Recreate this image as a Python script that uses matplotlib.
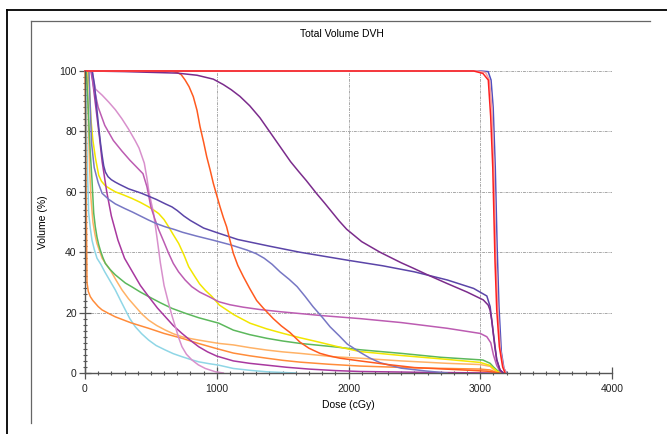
import matplotlib
matplotlib.use("Agg")
import matplotlib.pyplot as plt
from matplotlib.lines import Line2D
from matplotlib.ticker import MultipleLocator

plt.rcParams['font.family'] = ['Liberation Sans', 'DejaVu Sans']

# dose (cGy) / volume (%), one pair per structure
cyan_d = [5, 10, 18, 28, 40, 53, 70, 91, 120, 150, 190, 230, 270, 306, 340, 382, 430, 483, 540, 610, 670, 736,
          800, 863, 940, 1015, 1126, 1250, 1379, 1600]
cyan_v = [100, 85, 68, 53, 48, 44, 41, 38, 36, 33.5, 30.5, 27.5, 24, 20.9, 18, 15.3, 13, 10.9, 9.1, 7.6, 6.4, 5.4,
          4.5, 3.7, 3.1, 2.6, 1.5, 0.9, 0.4, 0]

orange_d = [0, 5, 10, 15, 25, 40, 60, 78, 100, 129, 180, 230, 350, 483, 600, 736, 860, 989, 1126, 1250, 1379,
            1500, 1632, 1850, 2087, 2500, 3000, 3075, 3120, 3150]
orange_v = [100, 80, 55, 30, 27, 25.3, 24, 23.1, 22, 20.9, 19.7, 18.6, 16.6, 14.8, 13.1, 11.5, 9.8, 8.2, 6.6,
            5.7, 4.9, 4.2, 3.6, 2.9, 2.3, 1.7, 1.3, 1, 0.3, 0]

peach_d = [15, 25, 35, 45, 60, 75, 90, 110, 130, 160, 192, 235, 281, 330, 382, 430, 483, 545, 610, 670, 736,
           800, 863, 1015, 1126, 1250, 1379, 1500, 1632, 1885, 2087, 2400, 2750, 3000, 3075, 3100, 3130, 3160]
peach_v = [100, 85, 68, 58, 50, 46, 43, 40.5, 38, 36, 34.1, 30.8, 27.5, 24.6, 22, 19.6, 17.5, 15.7, 14.2, 13,
           12, 11.4, 10.9, 9.8, 9.3, 8.4, 7.6, 7, 6.5, 5.4, 4.9, 4, 3.2, 2.8, 2.2, 1.2, 0.4, 0]

green_d = [10, 20, 30, 40, 53, 66, 78, 91, 104, 116, 135, 154, 190, 230, 306, 357, 420, 483, 570, 660, 760, 863,
           1015, 1126, 1250, 1379, 1500, 1632, 1885, 2087, 2400, 2700, 3020, 3075, 3100, 3125, 3160]
green_v = [100, 92, 82, 73, 64, 53, 48.5, 45, 42.5, 40.7, 38.3, 36.3, 34.3, 32.5, 29.8, 28.5, 26.8, 25.3, 23.3,
           21.4, 19.8, 18.3, 16.5, 14.2, 12.7, 11.5, 10.6, 9.8, 8.7, 7.7, 6.5, 5.2, 4.3, 3.2, 2, 1, 0]

yellow_d = [25, 35, 45, 60, 80, 104, 125, 154, 190, 230, 290, 357, 420, 483, 520, 559, 600, 635, 670, 711, 750,
            787, 830, 870, 915, 964, 1020, 1130, 1252, 1380, 1505, 1630, 1759, 1920, 2087, 2400, 2750, 3000, 3075,
            3100, 3130, 3165]
yellow_v = [100, 93, 84, 77, 71, 65.5, 63.5, 62, 61, 60, 59, 57.8, 56.5, 55, 54, 52.8, 50.8, 48.4, 45.8, 42.9,
            39.2, 35.2, 32.2, 29.5, 27.3, 25.3, 22.5, 19.3, 16.5, 14.6, 13.1, 11.7, 10.4, 8.7, 7.1, 5.8, 4.5,
            3.5, 2.5, 1.5, 0.5, 0]

dkmag_d = [45, 60, 85, 110, 130, 165, 200, 250, 300, 360, 420, 483, 550, 610, 670, 736, 800, 863, 930, 1000,
           1126, 1250, 1379, 1530, 1700, 1900, 2087, 2600, 3100]
dkmag_v = [100, 96, 87, 78, 70, 60, 52, 44, 38, 33.5, 29, 25.3, 21.5, 18.6, 15.7, 13.1, 10.8, 8.7, 7, 5.6,
           4, 3.2, 2.6, 1.9, 1.3, 0.8, 0.5, 0.2, 0]

pink_d = [55, 65, 80, 130, 180, 230, 280, 330, 380, 410, 430, 450, 470, 485, 505, 520, 546, 572, 600, 635, 660,
          686, 710, 736, 770, 812, 860, 913, 990, 1050]
pink_v = [100, 97, 94, 92, 89.7, 87.2, 84.2, 80.8, 77, 74.5, 72, 69.5, 64.5, 60, 56, 53, 45, 36.5, 29, 23,
          19, 15.3, 11.8, 8.7, 6.2, 4.3, 2.7, 1.5, 0.4, 0]

mag_d = [50, 65, 100, 150, 215, 280, 340, 400, 440, 470, 500, 530, 560, 600, 635, 670, 710, 760, 810, 870, 940,
         1015, 1100, 1200, 1330, 1480, 1800, 2090, 2400, 2750, 3000, 3050, 3080, 3100, 3125, 3150, 3170]
mag_v = [100, 95, 88, 82, 77, 73.5, 70.5, 67.8, 66, 61.7, 55, 51, 47.4, 43.3, 39.6, 36.3, 33.5, 30.8, 28.6,
         26.8, 25.3, 23.6, 22.6, 21.8, 21, 20.3, 19, 18, 16.7, 14.8, 13.1, 12, 10, 6, 2.5, 0.6, 0]

ltblue_d = [30, 40, 50, 70, 100, 130, 180, 230, 300, 360, 420, 480, 540, 610, 680, 740, 850, 970, 1100, 1230,
            1300, 1360, 1420, 1480, 1550, 1610, 1670, 1730, 1800, 1860, 1930, 1990, 2090, 2160, 2240, 2400, 2580,
            2750]
ltblue_v = [100, 88, 76, 68, 63, 59.5, 57.5, 56, 54.5, 53.3, 52, 50.7, 49.5, 48.4, 47.5, 46.6, 45.3, 44, 42.5,
            40.7, 39.5, 38, 36, 33.5, 31, 28.6, 25.4, 22, 18.5, 15.3, 12.3, 9.6, 6.8, 5, 3.4, 1.6, 0.7, 0]

bluepur_d = [55, 70, 80, 92, 105, 118, 130, 142, 155, 175, 200, 230, 260, 330, 430, 540, 610, 660, 700, 750, 800,
             900, 1000, 1160, 1400, 1630, 2000, 2260, 2500, 2750, 2950, 3050, 3075, 3100, 3125, 3150, 3175]
bluepur_v = [100, 96, 92, 86.5, 81, 76, 72, 68.6, 66.5, 65, 64, 63.2, 62.5, 61, 59.5, 57.5, 56, 55, 53.8, 52,
             50.5, 48, 46.5, 44.2, 42, 40, 37.3, 35.5, 33.5, 30.8, 28, 25.5, 22, 13, 4.5, 1, 0]

orred_d = [0, 650, 700, 730, 760, 790, 822, 850, 873, 900, 924, 950, 974, 1000, 1025, 1050, 1075, 1100, 1126,
           1160, 1202, 1250, 1303, 1353, 1429, 1490, 1556, 1632, 1700, 1784, 1860, 1935, 2087, 2300, 2500, 2870,
           3050, 3100, 3150]
orred_v = [100, 100, 99.5, 98.8, 97, 94.8, 91.5, 87, 81.6, 76.5, 71.6, 67.2, 62.8, 58.8, 55, 51.5, 48.4, 44,
           39.6, 35.6, 31.9, 28, 24, 21.5, 18, 15.6, 13.4, 10.2, 8.2, 6.5, 5.6, 4.9, 4, 2.8, 1.8, 1, 0.6, 0.3, 0]

purple_d = [40, 300, 700, 850, 974, 1050, 1110, 1176, 1250, 1328, 1400, 1480, 1560, 1620, 1680, 1760, 1820,
            1874, 1930, 1986, 2100, 2239, 2400, 2492, 2600, 2745, 2900, 3023, 3060, 3074, 3087, 3099, 3112,
            3125, 3150, 3175]
purple_v = [100, 99.8, 99.3, 98.6, 97.3, 95.5, 93.8, 91.6, 88.5, 84.5, 80, 75, 70, 66.8, 63.7, 59.3, 56.2,
            53.3, 50.3, 47.6, 43.5, 40, 36.5, 34.7, 32.5, 29.7, 26.8, 24.2, 22.5, 20.9, 17.5, 13, 8.2, 4.3, 1, 0]

ptvb_d = [0, 3000, 3060, 3082, 3098, 3114, 3128, 3142, 3160, 3180, 3200]
ptvb_v = [100, 100, 99.8, 97, 88, 68, 42, 22, 7, 1.5, 0]

ptvp_d = [0, 2980, 3040, 3070, 3088, 3104, 3118, 3134, 3152, 3175, 3195]
ptvp_v = [100, 100, 99.5, 97, 88, 68, 40, 21, 8, 2, 0]

ptv_d = [0, 2950, 3020, 3061, 3079, 3095, 3112, 3125, 3145, 3170, 3188]
ptv_v = [100, 100, 99.2, 97, 85, 68, 37, 21, 8.7, 2, 0]

curves = [
    (cyan_d, cyan_v, '#8fd6e6'),
    (orange_d, orange_v, '#ff8c3a'),
    (peach_d, peach_v, '#ffb266'),
    (green_d, green_v, '#5cb85c'),
    (yellow_d, yellow_v, '#f2e600'),
    (dkmag_d, dkmag_v, '#a8389f'),
    (pink_d, pink_v, '#d890cc'),
    (mag_d, mag_v, '#bc5cb2'),
    (ltblue_d, ltblue_v, '#7777c4'),
    (bluepur_d, bluepur_v, '#5b45a8'),
    (orred_d, orred_v, '#ff5a1f'),
    (purple_d, purple_v, '#7b2c8c'),
    (ptvb_d, ptvb_v, '#5050c0'),
    (ptvp_d, ptvp_v, '#f4a0a0'),
    (ptv_d, ptv_v, '#ff2020'),
]

fig = plt.figure(figsize=(6.67, 4.34), dpi=100)
ax = fig.add_axes([85 / 667, 1 - 373 / 434, 527 / 667, 302 / 434])

for d, v, c in curves:
    ax.plot(d, v, color=c, lw=1.1, clip_on=False, solid_joinstyle='round')

ax.set_xlim(0, 4000)
ax.set_ylim(0, 100)
ax.xaxis.set_major_locator(MultipleLocator(1000))
ax.xaxis.set_minor_locator(MultipleLocator(100))
ax.yaxis.set_major_locator(MultipleLocator(20))
ax.yaxis.set_minor_locator(MultipleLocator(2))

ax.grid(True, which='major', color='#a8a8a8', lw=0.7, linestyle=(0, (3, 1, 1, 1)))
ax.set_axisbelow(True)

for s in ['top', 'right']:
    ax.spines[s].set_visible(False)
for s in ['left', 'bottom']:
    ax.spines[s].set_color('#555555')
    ax.spines[s].set_linewidth(1.0)

ax.tick_params(which='major', direction='inout', length=8, width=0.9, color='#555555',
               labelsize=7.5, labelcolor='#222222', pad=2)
ax.tick_params(which='minor', direction='inout', length=3.5, width=0.8, color='#555555')
ax.tick_params(axis='x', which='major', pad=4)

ax.set_xlabel('Dose (cGy)', fontsize=7.5, labelpad=4)
ax.set_ylabel('Volume (%)', fontsize=7.5, labelpad=8)
fig.text(342 / 667, 1 - 34 / 434, 'Total Volume DVH', ha='center', va='center', fontsize=7.5)

# frame lines around the plot, as in the screenshot
fig.add_artist(Line2D([7 / 667, 1], [1 - 9.5 / 434] * 2, color='black', lw=1.3))
fig.add_artist(Line2D([7 / 667] * 2, [0, 1 - 9.5 / 434], color='black', lw=1.3))
fig.add_artist(Line2D([31 / 667, 650 / 667], [1 - 21 / 434] * 2, color='#666666', lw=0.9))
fig.add_artist(Line2D([31 / 667] * 2, [1 - 423 / 434, 1 - 21 / 434], color='#666666', lw=0.9))

fig.savefig('out.png', dpi=100)
